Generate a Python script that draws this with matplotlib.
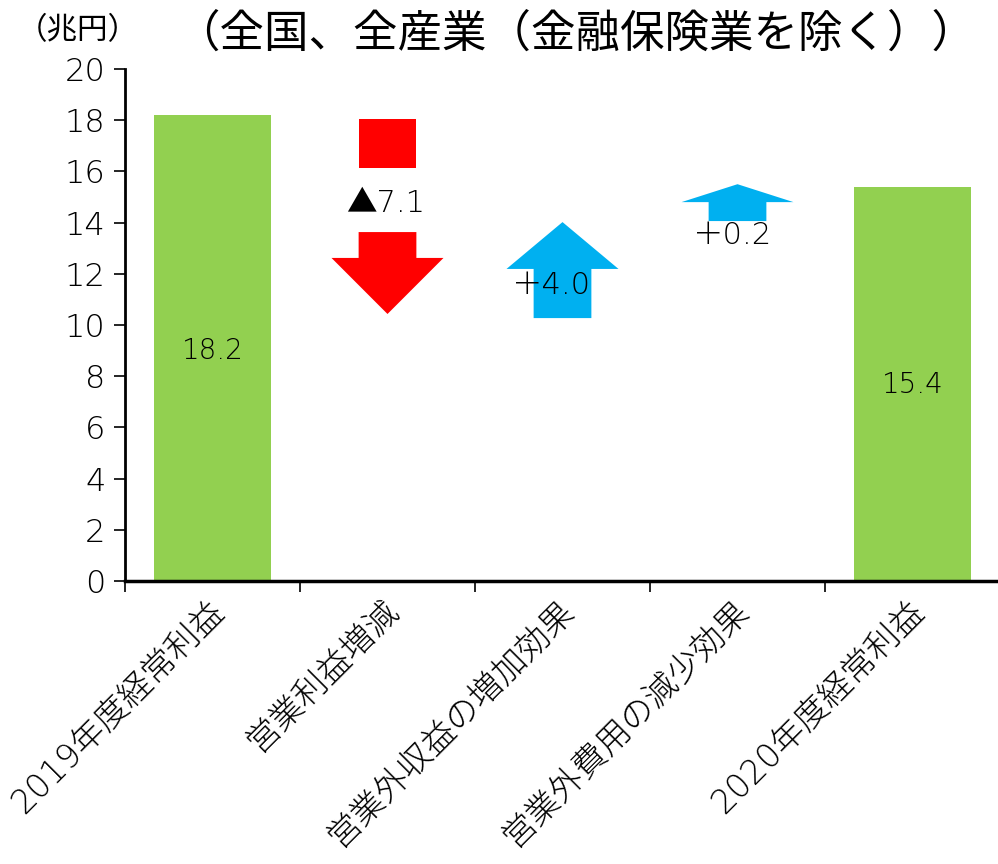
import matplotlib.pyplot as plt
from matplotlib.patches import Polygon

plt.rcParams["font.family"] = ["DejaVu Sans", "Noto Sans CJK JP"]

categories = ["2019年度経常利益", "営業利益増減", "営業外収益の増加効果", "営業外費用の減少効果", "2020年度経常利益"]
profit_2019 = 18.2
profit_2020 = 15.4
changes = [-7.1, 4.0, 0.2]
change_labels = ["▲7.1", "＋4.0", "＋0.2"]

# arrow shapes (schematic, in data units): shaft start, head base, tip
red_top_box = (18.05, 16.13)
red_arrow = (13.63, 12.62, 10.43)
blue_arrows = [(10.27, 12.19, 14.02), (14.06, 14.80, 15.50)]

GREEN = "#92D050"
RED = "#FF0000"
BLUE = "#00B0F0"
SHAFT_W = 0.33
HEAD_W = 0.64

fig = plt.figure(figsize=(9.98, 8.64), dpi=100)
ax = fig.add_axes([125 / 998, 1 - 581 / 864, 875 / 998, 512 / 864])

x = list(range(len(categories)))
ax.bar([0, 4], [profit_2019, profit_2020], width=0.67, color=GREEN, zorder=2)
ax.text(0, 9.0, f"{profit_2019:.1f}", ha="center", va="center", fontsize=20, fontweight="light")
ax.text(4, 7.65, f"{profit_2020:.1f}", ha="center", va="center", fontsize=20, fontweight="light")


def block_arrow(xc, y0, yh, yt, color):
    pts = [
        (xc - SHAFT_W / 2, y0), (xc + SHAFT_W / 2, y0),
        (xc + SHAFT_W / 2, yh), (xc + HEAD_W / 2, yh),
        (xc, yt),
        (xc - HEAD_W / 2, yh), (xc - SHAFT_W / 2, yh),
    ]
    ax.add_patch(Polygon(pts, closed=True, color=color, lw=0, zorder=2))


# red: top box + arrow below the label
ax.add_patch(Polygon([(1 - SHAFT_W / 2, red_top_box[0]), (1 + SHAFT_W / 2, red_top_box[0]),
                      (1 + SHAFT_W / 2, red_top_box[1]), (1 - SHAFT_W / 2, red_top_box[1])],
                     closed=True, color=RED, lw=0, zorder=2))
block_arrow(1, *red_arrow, RED)
for i, arr in enumerate(blue_arrows):
    block_arrow(2 + i, *arr, BLUE)

ax.text(0.99, 14.73, change_labels[0], ha="center", va="center", fontsize=22, fontweight="light", zorder=3)
ax.text(1.94, 11.56, change_labels[1], ha="center", va="center", fontsize=22, fontweight="light", zorder=3)
ax.text(2.97, 13.5, change_labels[2], ha="center", va="center", fontsize=22, fontweight="light", zorder=3)

ax.set_xlim(-0.5, 4.5)
ax.set_ylim(0, 20)
ax.set_yticks(range(0, 21, 2))
ax.tick_params(axis="y", labelsize=23, length=8, width=1.2, direction="out", pad=6)
for t in ax.get_yticklabels():
    t.set_fontweight("light")

ax.set_xticks(x)
ax.set_xticklabels([])
ax.tick_params(axis="x", which="major", length=0)
ax.set_xticks([-0.5, 0.5, 1.5, 2.5, 3.5], minor=True)
ax.tick_params(axis="x", which="minor", length=8, width=1.2, direction="out")
for xi, lab in zip(x, categories):
    ax.text(xi - 0.03, -0.5, lab, rotation=45, rotation_mode="anchor",
            ha="right", va="top", fontsize=24, fontweight="light")

ax.spines[["top", "right"]].set_visible(False)
ax.spines["left"].set_linewidth(2)
ax.spines["bottom"].set_linewidth(2.5)

fig.text(78 / 998, 1 - 31 / 864, "（兆円）", ha="center", va="center", fontsize=22)
fig.text(576 / 998, 1 - 34 / 864, "（全国、全産業（金融保険業を除く））", ha="center", va="center", fontsize=32)

fig.savefig("out.png", dpi=100)
